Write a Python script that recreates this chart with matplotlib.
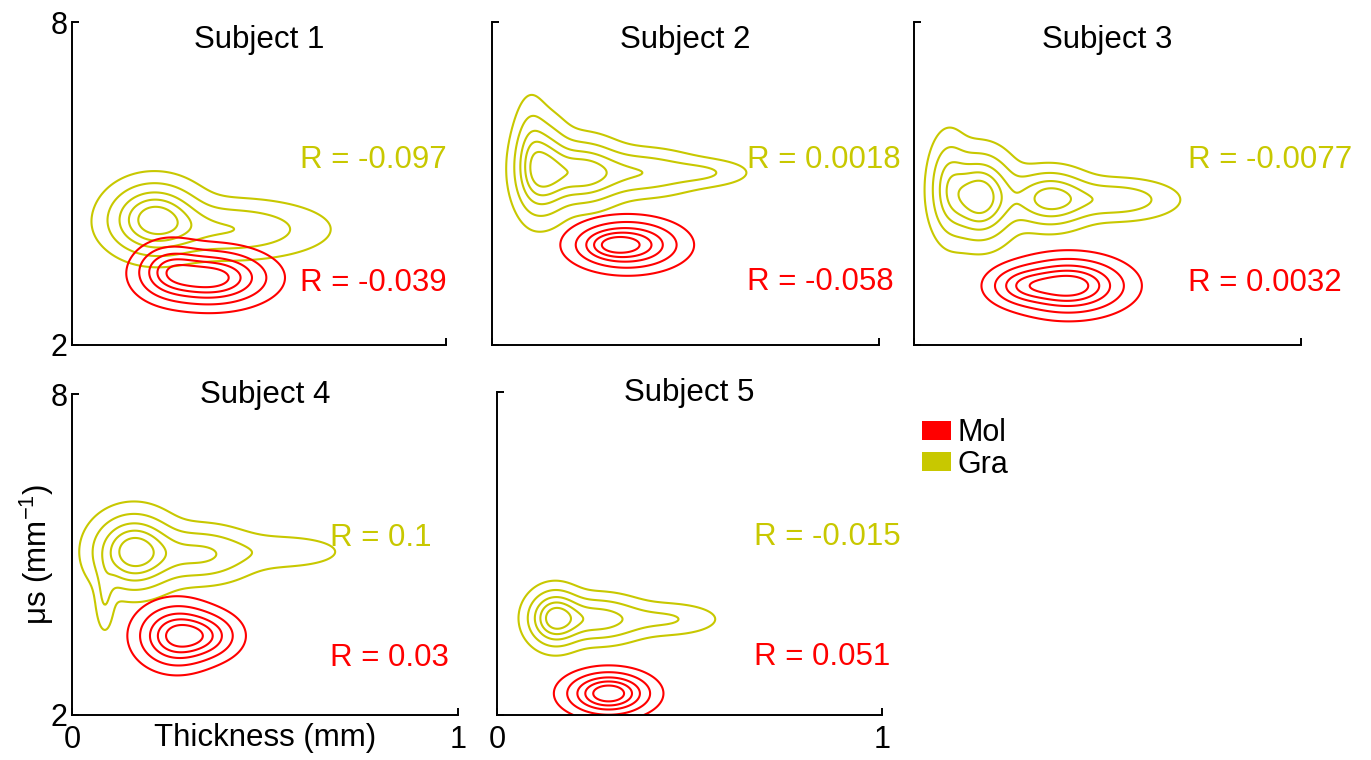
import numpy as np
import matplotlib
matplotlib.use("Agg")
import matplotlib.pyplot as plt
from matplotlib.patches import Patch

plt.rcParams['font.family'] = ['Liberation Sans', 'DejaVu Sans']
plt.rcParams['mathtext.fontset'] = 'custom'
plt.rcParams['mathtext.rm'] = 'Liberation Sans'

# subject titles and correlation values
subjects = ['Subject 1', 'Subject 2', 'Subject 3', 'Subject 4', 'Subject 5']
r_gra = ['-0.097', '0.0018', '-0.0077', '0.1', '-0.015']
r_mol = ['-0.039', '-0.058', '0.0032', '0.03', '0.051']

# density blobs: (x centre, y centre, x spread, y spread, weight)
gra_blobs = [
    [(0.22, 4.35, 0.07, 0.38, 1.0), (0.42, 4.15, 0.14, 0.30, 0.45)],
    [(0.13, 5.25, 0.04, 0.50, 1.0), (0.23, 5.20, 0.06, 0.35, 0.9),
     (0.38, 5.20, 0.09, 0.25, 0.5), (0.55, 5.20, 0.07, 0.15, 0.25),
     (0.10, 5.60, 0.025, 0.60, 0.3)],
    [(0.17, 4.75, 0.05, 0.45, 1.0), (0.35, 4.72, 0.06, 0.30, 0.7),
     (0.52, 4.70, 0.09, 0.22, 0.35), (0.09, 4.95, 0.03, 0.55, 0.4)],
    [(0.16, 5.05, 0.06, 0.40, 1.0), (0.33, 5.00, 0.08, 0.30, 0.45),
     (0.55, 5.05, 0.10, 0.20, 0.15), (0.085, 4.20, 0.015, 0.40, 0.2)],
    [(0.15, 3.80, 0.04, 0.30, 1.0), (0.26, 3.78, 0.07, 0.25, 0.6),
     (0.44, 3.78, 0.08, 0.18, 0.25)],
]
mol_blobs = [
    [(0.37, 3.25, 0.085, 0.28, 1.0), (0.26, 3.40, 0.05, 0.28, 0.5)],
    [(0.35, 3.86, 0.075, 0.25, 1.0), (0.30, 3.86, 0.04, 0.15, 0.3)],
    [(0.40, 3.10, 0.08, 0.28, 1.0), (0.28, 3.10, 0.05, 0.20, 0.4)],
    [(0.27, 3.48, 0.055, 0.32, 1.0), (0.35, 3.48, 0.05, 0.25, 0.5)],
    [(0.29, 2.40, 0.06, 0.22, 1.0)],
]
levels = [0.06, 0.2, 0.4, 0.6, 0.8]

gra_col = '#C8C800'
mol_col = '#FF0000'

xg = np.linspace(0, 1, 300)
yg = np.linspace(2, 8, 300)
X, Y = np.meshgrid(xg, yg)


def density(blobs):
    z = np.zeros_like(X)
    for cx, cy, sx, sy, w in blobs:
        z += w * np.exp(-0.5 * (((X - cx) / sx) ** 2 + ((Y - cy) / sy) ** 2))
    return z / z.max()


fig = plt.figure(figsize=(13.71, 7.6), dpi=100)
W, H = 1371, 760
# axes boxes in pixels: left, top, right, bottom
boxes = [(72, 22, 446, 345), (492, 22, 879, 345), (914, 22, 1301, 345),
         (72, 394, 458, 715), (497, 392, 882, 715)]
axes = []
for (l, t, r, b) in boxes:
    axes.append(fig.add_axes([l / W, 1 - b / H, (r - l) / W, (b - t) / H]))

fs = 22.5
for i, ax in enumerate(axes):
    ax.contour(X, Y, density(gra_blobs[i]), levels=levels, colors=gra_col, linewidths=1.5)
    ax.contour(X, Y, density(mol_blobs[i]), levels=levels, colors=mol_col, linewidths=1.5)
    ax.set_xlim(0, 1)
    ax.set_ylim(2, 8)
    ax.set_xticks([0, 1])
    ax.set_yticks([2, 8])
    ax.spines['top'].set_visible(False)
    ax.spines['right'].set_visible(False)
    for s in ['left', 'bottom']:
        ax.spines[s].set_linewidth(1.4)
    ax.tick_params(direction='in', length=5, width=1.4, labelsize=22, pad=3)
    ax.tick_params(axis='x', pad=7)
    if i not in (0, 3):
        ax.set_yticklabels([])
    if i not in (3, 4):
        ax.set_xticklabels([])
    ty = 0.945 if i < 3 else 0.998
    ax.text(0.5, ty, subjects[i], transform=ax.transAxes, ha='center', va='center', fontsize=fs)

# R labels (x, y in data units)
gra_pos = [(0.61, 5.44), (0.659, 5.44), (0.708, 5.44), (0.668, 5.31), (0.668, 5.30)]
mol_pos = [(0.61, 3.15), (0.659, 3.17), (0.708, 3.15), (0.668, 3.07), (0.668, 3.07)]
for i, ax in enumerate(axes):
    ax.text(gra_pos[i][0], gra_pos[i][1], 'R = ' + r_gra[i], color=gra_col, fontsize=fs,
            ha='left', va='center', clip_on=False)
    ax.text(mol_pos[i][0], mol_pos[i][1], 'R = ' + r_mol[i], color=mol_col, fontsize=fs,
            ha='left', va='center', clip_on=False)

axes[3].set_xlabel('Thickness (mm)', fontsize=fs)
axes[3].xaxis.set_label_coords(0.5, -0.025)
axes[3].set_ylabel('μs (mm$^{-1}$)', fontsize=fs)
axes[3].yaxis.set_label_coords(-0.042, 0.5)

handles = [Patch(facecolor=mol_col, label='Mol'), Patch(facecolor=gra_col, label='Gra')]
fig.legend(handles=handles, loc='upper left', bbox_to_anchor=(922 / W, 1 - 418 / H),
           frameon=False, fontsize=22, handlelength=0.95, handleheight=0.56,
           handletextpad=0.2, labelspacing=0.05, borderpad=0, borderaxespad=0)

fig.savefig('out.png', dpi=100)
